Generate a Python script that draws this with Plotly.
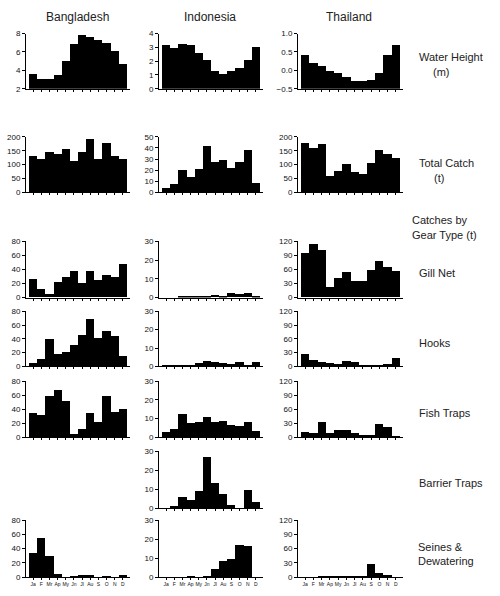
import plotly.graph_objects as go

W, H = 500, 596

months = ["Ja", "F", "Mr", "Ap", "My", "Jn", "Jl", "Au", "S", "O", "N", "D"]
countries = ["Bangladesh", "Indonesia", "Thailand"]

# water height (m)
water_bd = [3.6, 3.15, 3.15, 3.55, 5.1, 6.9, 7.9, 7.65, 7.35, 7.0, 6.1, 4.7]
water_id = [3.2, 3.0, 3.25, 3.2, 2.6, 2.1, 1.3, 1.1, 1.3, 1.55, 2.1, 3.05]
water_th = [0.42, 0.2, 0.12, 0.0, -0.05, -0.17, -0.27, -0.27, -0.25, -0.05, 0.42, 0.7]

# total catch (t)
total_bd = [132, 120, 147, 138, 157, 112, 145, 193, 120, 178, 130, 120]
total_id = [4, 7, 20, 14, 21, 42, 27, 29, 22, 27, 38, 8]
total_th = [180, 160, 173, 60, 78, 103, 72, 65, 105, 153, 138, 123]

# catches by gear type (t)
gill_bd = [26, 12, 5, 21, 28, 37, 20, 37, 24, 31, 28, 47]
gill_id = [0, 0, 0.1, 0.1, 0.1, 0.5, 1.2, 0.1, 2.3, 1.8, 2.2, 0.2]
gill_th = [95, 113, 100, 22, 40, 53, 35, 34, 57, 78, 65, 56]

hooks_bd = [5, 11, 39, 18, 21, 30, 45, 69, 41, 51, 44, 15]
hooks_id = [0.5, 0.8, 0.8, 0.5, 1.8, 2.8, 2.0, 1.5, 1.0, 2.0, 0.7, 2.2]
hooks_th = [27, 14, 8, 7, 5, 12, 8, 2, 1, 1, 4, 18]

traps_bd = [35, 31, 59, 67, 51, 4, 11, 34, 21, 59, 36, 40]
traps_id = [2.5, 4.5, 12.5, 7.5, 8, 11, 8, 8.5, 6.5, 6, 8, 3.2]
traps_th = [10, 8, 32, 8, 16, 16, 8, 5, 5, 29, 21, 3]

barrier_id = [0, 1, 6, 4.5, 9, 27, 13, 7.5, 1.5, 0, 9.5, 3]

seines_bd = [34, 55, 29, 5, 0, 0.5, 3, 2.5, 0, 0.5, 0, 2.5]
seines_id = [0, 0, 0, 0.3, 0, 0.5, 4.5, 8.5, 9.5, 17, 16.5, 0]
seines_th = [0, 0, 0.5, 2, 1, 0.5, 1.5, 0.5, 27, 9, 5, 0]

# pixel layout
cols_px = [(26, 130), (159, 263), (298, 403)]
rows_px = [(30, 86), (135, 191), (241, 298), (312, 368), (383, 440), (454, 512), (524, 582)]

# (row, col, values, y range, dtick, tick format)
panels = [
    (0, 0, water_bd, [2, 8], 2, None),
    (0, 1, water_id, [0, 4], 1, None),
    (0, 2, water_th, [-0.5, 1.0], 0.5, ".1f"),
    (1, 0, total_bd, [0, 200], 50, None),
    (1, 1, total_id, [0, 50], 10, None),
    (1, 2, total_th, [0, 200], 50, None),
    (2, 0, gill_bd, [0, 80], 20, None),
    (2, 1, gill_id, [0, 30], 10, None),
    (2, 2, gill_th, [0, 120], 30, None),
    (3, 0, hooks_bd, [0, 80], 20, None),
    (3, 1, hooks_id, [0, 30], 10, None),
    (3, 2, hooks_th, [0, 120], 30, None),
    (4, 0, traps_bd, [0, 80], 20, None),
    (4, 1, traps_id, [0, 30], 10, None),
    (4, 2, traps_th, [0, 120], 30, None),
    (5, 1, barrier_id, [0, 30], 10, None),
    (6, 0, seines_bd, [0, 80], 20, None),
    (6, 1, seines_id, [0, 30], 10, None),
    (6, 2, seines_th, [0, 120], 30, None),
]

fig = go.Figure()
layout = {}
font = "Liberation Sans, Arial, sans-serif"

for i, (r, c, vals, yr, dt, fmt) in enumerate(panels):
    n = "" if i == 0 else str(i + 1)
    x0, x1 = cols_px[c]
    top, bot = rows_px[r]
    base = yr[0]
    fig.add_trace(go.Bar(
        x=list(range(12)), y=[v - base for v in vals], base=base,
        marker=dict(color="black", line=dict(width=0)),
        xaxis="x" + n, yaxis="y" + n, showlegend=False, hoverinfo="skip",
    ))
    pad = 3 / ((x1 - x0) / 12.8)
    layout["xaxis" + n] = dict(
        domain=[x0 / W, x1 / W], anchor="y" + n, range=[-0.5 - pad, 11.5 + pad],
        showgrid=False, zeroline=False, showline=True, linecolor="black", linewidth=1,
        ticks="outside", ticklen=2, tickwidth=1, tickcolor="black",
        tickvals=list(range(12)), ticktext=months if r == 6 else [""] * 12,
        tickangle=0, tickfont=dict(size=5, family=font, color="#111"), fixedrange=True,
    )
    layout["yaxis" + n] = dict(
        domain=[1 - bot / H, 1 - top / H], anchor="x" + n, range=yr,
        showgrid=False, zeroline=False, showline=True, linecolor="black", linewidth=1,
        ticks="outside", ticklen=3, tickwidth=1, tickcolor="black",
        dtick=dt, tick0=yr[0], tickformat=fmt,
        tickfont=dict(size=8, family=font, color="#111"), fixedrange=True,
    )

annotations = []
for name, cx in zip(countries, [77, 210, 349]):
    annotations.append(dict(x=cx / W, y=1 - 13 / H, xref="paper", yref="paper",
                            text=name, showarrow=False,
                            xanchor="center", yanchor="middle",
                            font=dict(size=12, family=font, color="#222")))

row_labels = [
    ("Water Height", 417, 54), ("(m)", 431, 69),
    ("Total Catch", 417, 161), ("(t)", 432, 177),
    ("Catches by", 410, 219), ("Gear Type (t)", 410, 235),
    ("Gill Net", 417, 273), ("Hooks", 417, 344),
    ("Fish Traps", 417, 415), ("Barrier Traps", 417, 486),
    ("Seines &", 416, 551), ("Dewatering", 416, 566),
]
for txt, lx, ly in row_labels:
    annotations.append(dict(x=lx / W, y=1 - ly / H, xref="paper", yref="paper",
                            text=txt, showarrow=False, xanchor="left", yanchor="middle",
                            font=dict(size=11, family=font, color="#222")))

fig.update_layout(
    width=W, height=H, margin=dict(l=0, r=0, t=0, b=0),
    paper_bgcolor="white", plot_bgcolor="white",
    bargap=0, annotations=annotations, **layout,
)

page_fix = ("document.documentElement.style.margin='0';"
            "document.documentElement.style.overflow='hidden';"
            "document.body.style.margin='0';document.body.style.padding='0';"
            "document.body.style.overflow='hidden';")
fig.write_html("out.html", config={"displayModeBar": False}, post_script=page_fix)
